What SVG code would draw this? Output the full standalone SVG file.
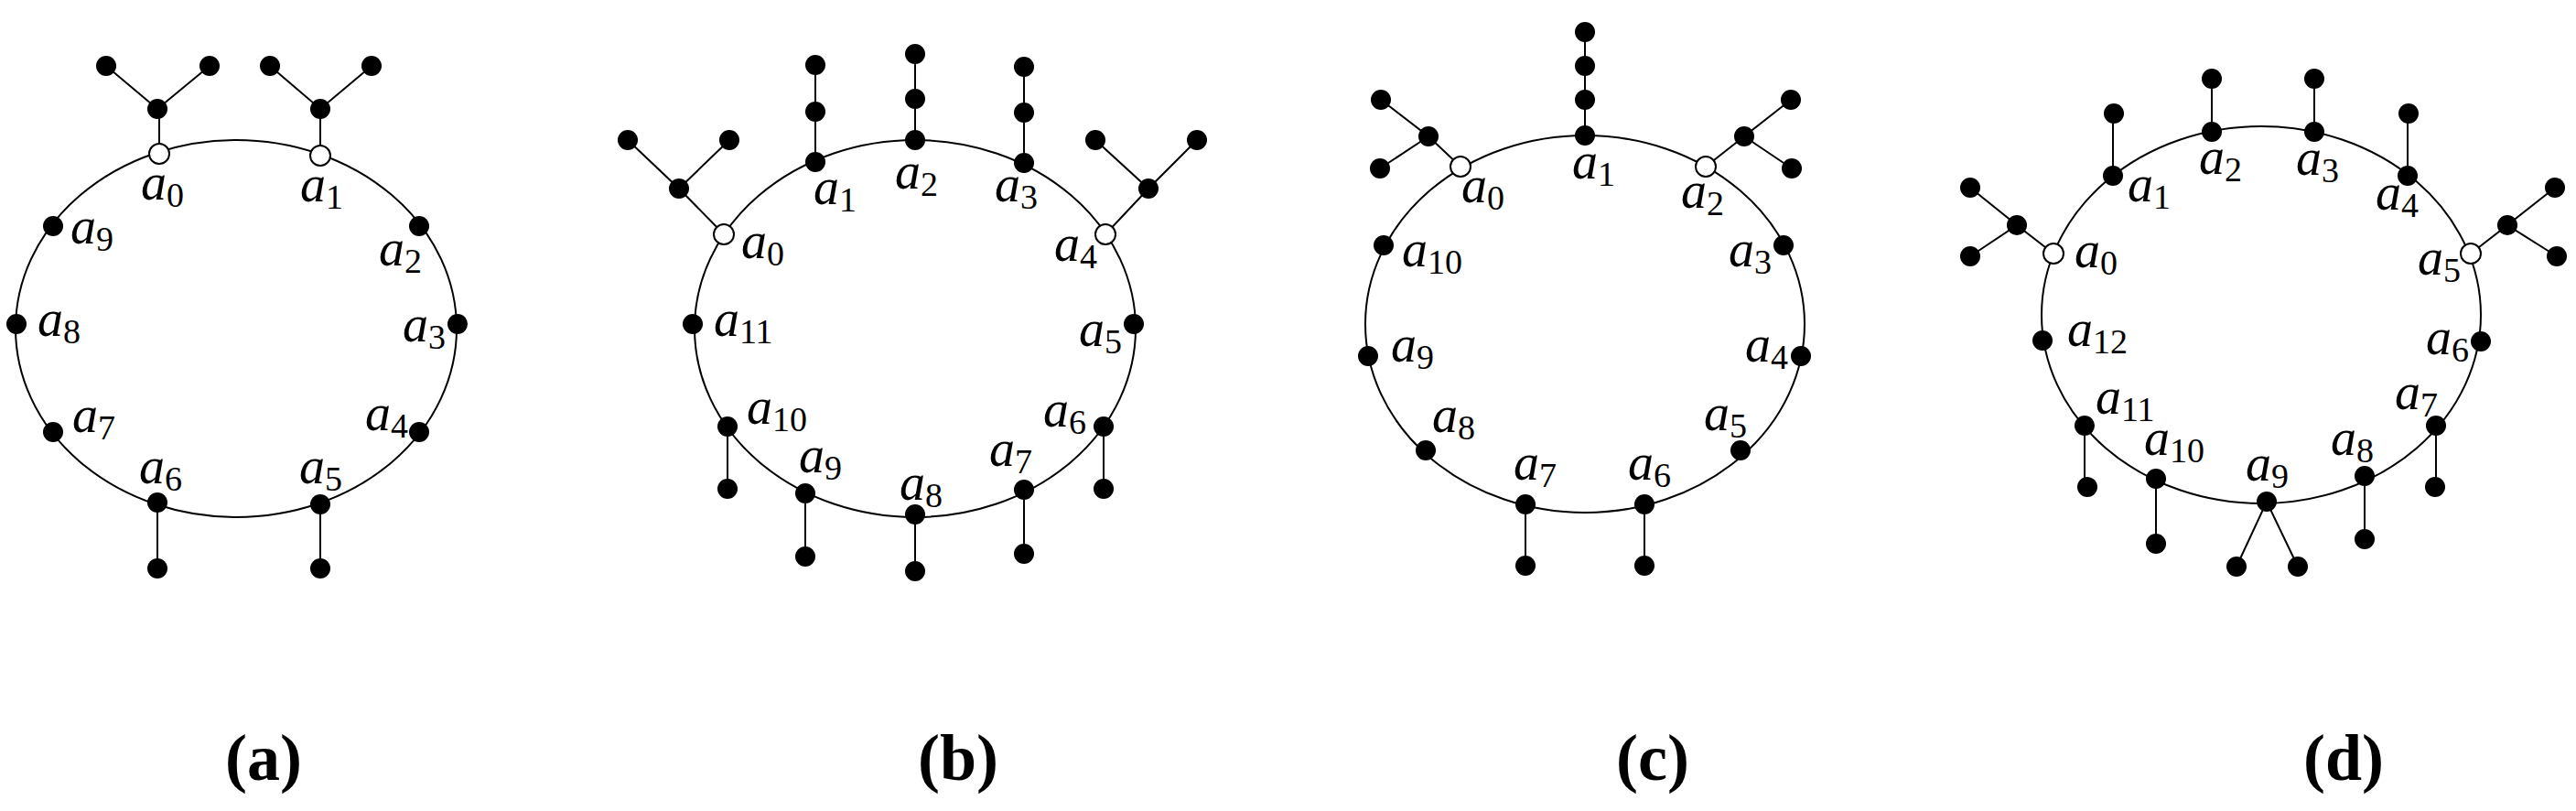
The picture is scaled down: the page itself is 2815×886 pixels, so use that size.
<svg xmlns="http://www.w3.org/2000/svg" width="2815" height="886" viewBox="0 0 2815 886">
<style>
.ring{fill:none;stroke:#000;stroke-width:2}
.ln{fill:none;stroke:#000;stroke-width:2}
.f{fill:#000}
.o{fill:#fff;stroke:#000;stroke-width:2}
.lb{font-family:"Liberation Serif","Times New Roman",serif;font-style:italic;font-size:56px}
.sb{font-style:normal;font-size:38px}
.cap{font-family:"Liberation Serif",serif;font-weight:bold;font-size:72px;text-anchor:middle}
</style>
<defs>
<ellipse id="n" rx="11" ry="11" class="f"/>
<ellipse id="w" rx="11" ry="11" class="o"/>
</defs>
<rect width="2815" height="886" fill="#fff"/>
<g id="connectors">
<ellipse class="ring" cx="258" cy="359" rx="241" ry="206"/>
<path class="ln" d="M174 168V119M116 72L172 119L229 72M350 170V119M295 72L350 119L406 72M172 549V621M350 551V621"/>
<ellipse class="ring" cx="1000" cy="359" rx="241" ry="206"/>
<path class="ln" d="M791 256L742 206M686 153L742 206L797 153M1208 256L1255 206M1197 153L1255 206L1308 153M891 177V71M1000 153V59M1119 178V73M795 466V534M880 539V608M1000 562V624M1119 535V605M1206 466V534"/>
<ellipse class="ring" cx="1732" cy="354" rx="240" ry="206"/>
<path class="ln" d="M1596 182L1561 149M1509 109L1561 149L1508 184M1864 182L1906 149M1957 109L1906 149L1958 184M1732 148V35M1667 551V618M1797 551V618"/>
<ellipse class="ring" cx="2471" cy="344" rx="240" ry="206"/>
<path class="ln" d="M2244 277L2204 246M2153 205L2204 246L2153 280M2700 277L2740 246M2792 205L2740 246L2794 280M2309 192V124M2417 144V86M2529 144V86M2631 192V124M2278 465V532M2356 523V594M2444 619L2477 548L2511 619M2584 520V589M2662 465V532"/>
</g>
<g id="graph-a">
<use href="#w" x="174" y="168"/><use href="#w" x="350" y="170"/>
<use href="#n" x="172" y="119"/><use href="#n" x="116" y="72"/><use href="#n" x="229" y="72"/>
<use href="#n" x="350" y="119"/><use href="#n" x="295" y="72"/><use href="#n" x="406" y="72"/>
<use href="#n" x="58" y="247"/><use href="#n" x="458" y="247"/><use href="#n" x="18" y="354"/><use href="#n" x="500" y="354"/>
<use href="#n" x="58" y="472"/><use href="#n" x="458" y="472"/><use href="#n" x="172" y="549"/><use href="#n" x="350" y="551"/>
<use href="#n" x="172" y="621"/><use href="#n" x="350" y="621"/>
<text class="lb" x="154" y="218">a<tspan class="sb" dy="8">0</tspan></text>
<text class="lb" x="328" y="220">a<tspan class="sb" dy="8">1</tspan></text>
<text class="lb" x="77" y="266">a<tspan class="sb" dy="8">9</tspan></text>
<text class="lb" x="414" y="290">a<tspan class="sb" dy="8">2</tspan></text>
<text class="lb" x="41" y="367">a<tspan class="sb" dy="8">8</tspan></text>
<text class="lb" x="440" y="373">a<tspan class="sb" dy="8">3</tspan></text>
<text class="lb" x="79" y="472">a<tspan class="sb" dy="8">7</tspan></text>
<text class="lb" x="399" y="470">a<tspan class="sb" dy="8">4</tspan></text>
<text class="lb" x="152" y="528">a<tspan class="sb" dy="8">6</tspan></text>
<text class="lb" x="327" y="528">a<tspan class="sb" dy="8">5</tspan></text>
<text class="cap" x="288" y="852">(a)</text>
</g>
<g id="graph-b">
<use href="#w" x="791" y="256"/><use href="#w" x="1208" y="256"/>
<use href="#n" x="742" y="206"/><use href="#n" x="686" y="153"/><use href="#n" x="797" y="153"/>
<use href="#n" x="1255" y="206"/><use href="#n" x="1197" y="153"/><use href="#n" x="1308" y="153"/>
<use href="#n" x="891" y="177"/><use href="#n" x="891" y="122"/><use href="#n" x="891" y="71"/>
<use href="#n" x="1000" y="153"/><use href="#n" x="1000" y="108"/><use href="#n" x="1000" y="59"/>
<use href="#n" x="1119" y="178"/><use href="#n" x="1119" y="123"/><use href="#n" x="1119" y="73"/>
<use href="#n" x="1239" y="354"/><use href="#n" x="757" y="354"/>
<use href="#n" x="1206" y="466"/><use href="#n" x="1206" y="534"/>
<use href="#n" x="1119" y="535"/><use href="#n" x="1119" y="605"/>
<use href="#n" x="1000" y="562"/><use href="#n" x="1000" y="624"/>
<use href="#n" x="880" y="539"/><use href="#n" x="880" y="608"/>
<use href="#n" x="795" y="466"/><use href="#n" x="795" y="534"/>
<text class="lb" x="810" y="282">a<tspan class="sb" dy="8">0</tspan></text>
<text class="lb" x="889" y="223">a<tspan class="sb" dy="8">1</tspan></text>
<text class="lb" x="978" y="206">a<tspan class="sb" dy="8">2</tspan></text>
<text class="lb" x="1087" y="220">a<tspan class="sb" dy="8">3</tspan></text>
<text class="lb" x="1152" y="285">a<tspan class="sb" dy="8">4</tspan></text>
<text class="lb" x="1179" y="378">a<tspan class="sb" dy="8">5</tspan></text>
<text class="lb" x="1140" y="466">a<tspan class="sb" dy="8">6</tspan></text>
<text class="lb" x="1081" y="509">a<tspan class="sb" dy="8">7</tspan></text>
<text class="lb" x="983" y="546">a<tspan class="sb" dy="8">8</tspan></text>
<text class="lb" x="873" y="516">a<tspan class="sb" dy="8">9</tspan></text>
<text class="lb" x="816" y="463">a<tspan class="sb" dy="8">10</tspan></text>
<text class="lb" x="780" y="367">a<tspan class="sb" dy="8">11</tspan></text>
<text class="cap" x="1047" y="852">(b)</text>
</g>
<g id="graph-c">
<use href="#w" x="1596" y="182"/><use href="#w" x="1864" y="182"/>
<use href="#n" x="1561" y="149"/><use href="#n" x="1509" y="109"/><use href="#n" x="1508" y="184"/>
<use href="#n" x="1906" y="149"/><use href="#n" x="1957" y="109"/><use href="#n" x="1958" y="184"/>
<use href="#n" x="1732" y="148"/><use href="#n" x="1732" y="109"/><use href="#n" x="1732" y="72"/><use href="#n" x="1732" y="35"/>
<use href="#n" x="1949" y="268"/><use href="#n" x="1968" y="389"/><use href="#n" x="1902" y="492"/>
<use href="#n" x="1797" y="551"/><use href="#n" x="1797" y="618"/><use href="#n" x="1667" y="551"/><use href="#n" x="1667" y="618"/>
<use href="#n" x="1558" y="492"/><use href="#n" x="1495" y="389"/><use href="#n" x="1512" y="268"/>
<text class="lb" x="1597" y="221">a<tspan class="sb" dy="8">0</tspan></text>
<text class="lb" x="1718" y="195">a<tspan class="sb" dy="8">1</tspan></text>
<text class="lb" x="1837" y="227">a<tspan class="sb" dy="8">2</tspan></text>
<text class="lb" x="1889" y="291">a<tspan class="sb" dy="8">3</tspan></text>
<text class="lb" x="1907" y="395">a<tspan class="sb" dy="8">4</tspan></text>
<text class="lb" x="1862" y="470">a<tspan class="sb" dy="8">5</tspan></text>
<text class="lb" x="1779" y="524">a<tspan class="sb" dy="8">6</tspan></text>
<text class="lb" x="1654" y="524">a<tspan class="sb" dy="8">7</tspan></text>
<text class="lb" x="1565" y="472">a<tspan class="sb" dy="8">8</tspan></text>
<text class="lb" x="1520" y="395">a<tspan class="sb" dy="8">9</tspan></text>
<text class="lb" x="1532" y="291">a<tspan class="sb" dy="8">10</tspan></text>
<text class="cap" x="1806" y="852">(c)</text>
</g>
<g id="graph-d">
<use href="#w" x="2244" y="277"/><use href="#w" x="2700" y="277"/>
<use href="#n" x="2204" y="246"/><use href="#n" x="2153" y="205"/><use href="#n" x="2153" y="280"/>
<use href="#n" x="2740" y="246"/><use href="#n" x="2792" y="205"/><use href="#n" x="2794" y="280"/>
<use href="#n" x="2309" y="192"/><use href="#n" x="2310" y="124"/>
<use href="#n" x="2417" y="144"/><use href="#n" x="2417" y="86"/>
<use href="#n" x="2529" y="144"/><use href="#n" x="2529" y="86"/>
<use href="#n" x="2631" y="192"/><use href="#n" x="2632" y="124"/>
<use href="#n" x="2711" y="373"/><use href="#n" x="2232" y="372"/>
<use href="#n" x="2662" y="465"/><use href="#n" x="2661" y="532"/>
<use href="#n" x="2584" y="520"/><use href="#n" x="2584" y="589"/>
<use href="#n" x="2477" y="548"/><use href="#n" x="2444" y="619"/><use href="#n" x="2511" y="619"/>
<use href="#n" x="2356" y="523"/><use href="#n" x="2356" y="594"/>
<use href="#n" x="2278" y="465"/><use href="#n" x="2281" y="532"/>
<text class="lb" x="2267" y="292">a<tspan class="sb" dy="8">0</tspan></text>
<text class="lb" x="2325" y="220">a<tspan class="sb" dy="8">1</tspan></text>
<text class="lb" x="2403" y="190">a<tspan class="sb" dy="8">2</tspan></text>
<text class="lb" x="2509" y="191">a<tspan class="sb" dy="8">3</tspan></text>
<text class="lb" x="2596" y="229">a<tspan class="sb" dy="8">4</tspan></text>
<text class="lb" x="2642" y="300">a<tspan class="sb" dy="8">5</tspan></text>
<text class="lb" x="2651" y="387">a<tspan class="sb" dy="8">6</tspan></text>
<text class="lb" x="2617" y="447">a<tspan class="sb" dy="8">7</tspan></text>
<text class="lb" x="2547" y="497">a<tspan class="sb" dy="8">8</tspan></text>
<text class="lb" x="2454" y="525">a<tspan class="sb" dy="8">9</tspan></text>
<text class="lb" x="2343" y="497">a<tspan class="sb" dy="8">10</tspan></text>
<text class="lb" x="2290" y="452">a<tspan class="sb" dy="8">11</tspan></text>
<text class="lb" x="2259" y="378">a<tspan class="sb" dy="8">12</tspan></text>
<text class="cap" x="2561" y="852">(d)</text>
</g>
</svg>
